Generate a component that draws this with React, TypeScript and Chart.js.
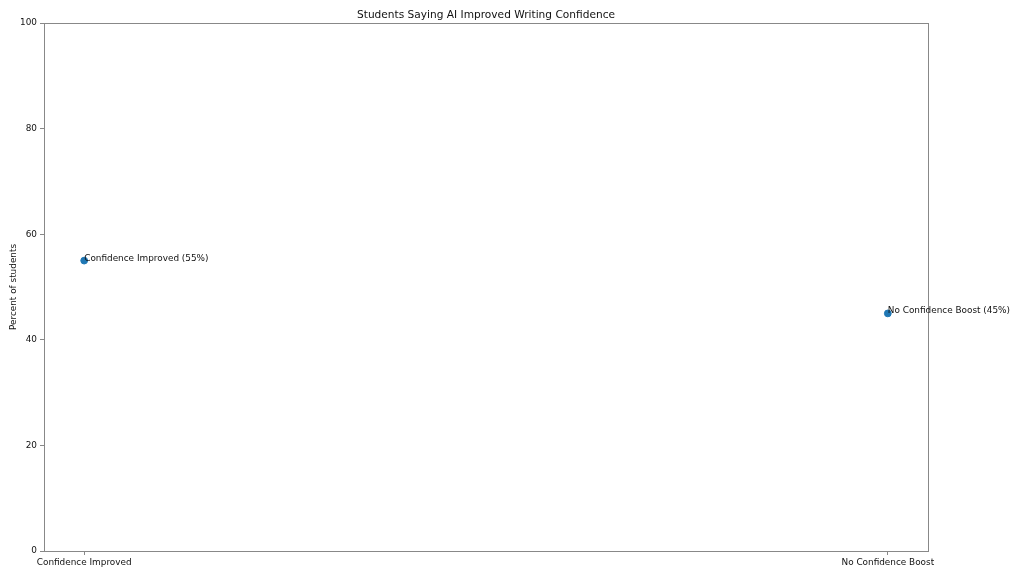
import React, { useRef, useEffect } from 'react';
import { Chart, registerables } from 'chart.js';

Chart.register(...registerables);

const categories = ['Confidence Improved', 'No Confidence Boost'];
const percents = [55, 45];
const yTicks = [0, 20, 40, 60, 80, 100];

const FONT = 'DejaVu Sans';
const TITLE = 'Students Saying AI Improved Writing Confidence';
const TEXT = '#111';
const SPINE = '#888';

// frame, title and point labels, like the matplotlib original
const extras = {
  id: 'extras',
  afterDraw(chart: any) {
    const { ctx, chartArea } = chart;
    const { left, right, top, bottom } = chartArea;
    ctx.save();
    ctx.strokeStyle = SPINE;
    ctx.lineWidth = 1;
    ctx.strokeRect(left + 0.5, top + 0.5, right - left, bottom - top);

    ctx.fillStyle = TEXT;
    ctx.font = `10.6px ${FONT}`;
    ctx.textAlign = 'center';
    ctx.textBaseline = 'alphabetic';
    ctx.fillText(TITLE, (left + right) / 2, top - 5);

    ctx.font = `8.9px ${FONT}`;
    ctx.textAlign = 'left';
    const meta = chart.getDatasetMeta(0);
    meta.data.forEach((pt: any, i: number) => {
      ctx.fillText(`${categories[i]} (${percents[i]}%)`, pt.x, pt.y);
    });
    ctx.restore();
  },
};

const App = () => {
  const chartRef = useRef<HTMLCanvasElement>(null);

  useEffect(() => {
    const ctx = chartRef.current!.getContext('2d')!;
    const chart = new Chart(ctx, {
      type: 'scatter',
      data: {
        datasets: [{
          data: percents.map((v, i) => ({ x: i, y: v })),
          backgroundColor: '#1f77b4',
          borderColor: '#1f77b4',
          pointRadius: 3.4,
        }],
      },
      options: {
        animation: false,
        responsive: true,
        maintainAspectRatio: false,
        layout: { padding: { top: 23, right: 96, left: 0, bottom: 0 } },
        plugins: {
          legend: { display: false },
          tooltip: { enabled: false },
          title: { display: false },
        },
        scales: {
          x: {
            type: 'linear',
            min: -0.05,
            max: 1.05,
            afterBuildTicks: (s: any) => { s.ticks = [{ value: 0 }, { value: 1 }]; },
            afterFit: (s: any) => { s.height = 25; },
            ticks: {
              callback: (v: any) => categories[v] ?? '',
              color: TEXT,
              font: { family: FONT, size: 8.9 },
              padding: 2,
              maxRotation: 0,
              autoSkip: false,
            },
            grid: { drawOnChartArea: false, drawTicks: true, tickLength: 4, color: SPINE },
            border: { display: true, color: SPINE, width: 1 },
          },
          y: {
            min: 0,
            max: 100,
            afterBuildTicks: (s: any) => { s.ticks = yTicks.map((v) => ({ value: v })); },
            afterFit: (s: any) => { s.width = 44; },
            ticks: {
              color: TEXT,
              font: { family: FONT, size: 8.9 },
              padding: 3,
            },
            grid: { drawOnChartArea: false, drawTicks: true, tickLength: 4, color: SPINE },
            border: { display: true, color: SPINE, width: 1 },
            title: {
              display: true,
              text: 'Percent of students',
              color: TEXT,
              font: { family: FONT, size: 8.9 },
              padding: { top: 8, bottom: 0 },
            },
          },
        },
      },
      plugins: [extras],
    });

    return () => chart.destroy();
  }, []);

  return (
    <div style={{ position: 'absolute', left: 0, top: 0, width: 1024, height: 576, background: '#fff' }}>
      <canvas ref={chartRef}></canvas>
    </div>
  );
};

export default App;
